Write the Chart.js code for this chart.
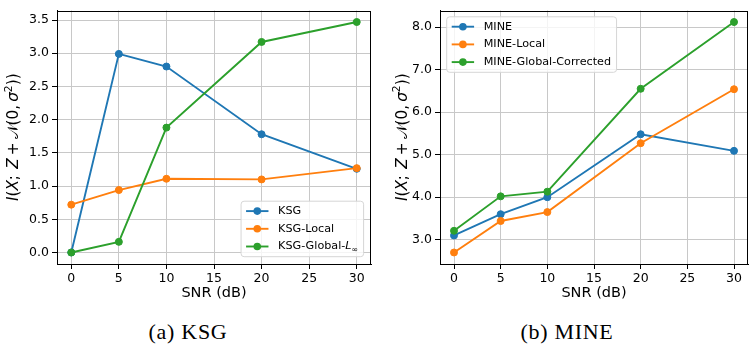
<!DOCTYPE html>
<html>
<head>
<meta charset="utf-8">
<script src="https://cdn.jsdelivr.net/npm/chart.js@4.4.1/dist/chart.umd.min.js"></script>
<style>
  html, body { margin: 0; padding: 0; background: #fff; }
  #wrap { position: relative; width: 753px; height: 344px; background: #fff; overflow: hidden; }
  .pane { position: absolute; top: 0; }
  .cap { position: absolute; top: 321px; width: 200px; text-align: center;
         font-family: "Liberation Serif", "DejaVu Serif", serif; font-size: 22px; line-height: 22px;
         letter-spacing: 0.7px; color: #000; }
</style>
</head>
<body>
<div id="wrap">
  <div class="pane" style="left:0px;"><canvas id="c1" width="376" height="305"></canvas></div>
  <div class="pane" style="left:376px;"><canvas id="c2" width="377" height="305"></canvas></div>
  <div class="cap" style="left:88px;">(a) KSG</div>
  <div class="cap" style="left:467px;">(b) MINE</div>
</div>
<script>
// ---- data ----
const snr = [0, 5, 10, 20, 30];
const xTicks = [0, 5, 10, 15, 20, 25, 30];

const ksgLabels = ['KSG', 'KSG-Local', 'KSG-Global-L∞'];
const ksg       = [0.00, 2.99, 2.80, 1.78, 1.26];
const ksgLocal  = [0.72, 0.94, 1.11, 1.10, 1.27];
const ksgGlobal = [0.00, 0.16, 1.88, 3.17, 3.47];
const yTicksA   = [0.0, 0.5, 1.0, 1.5, 2.0, 2.5, 3.0, 3.5];

const mineLabels = ['MINE', 'MINE-Local', 'MINE-Global-Corrected'];
const mine       = [3.10, 3.60, 4.00, 5.48, 5.09];
const mineLocal  = [2.70, 3.44, 3.65, 5.27, 6.54];
const mineGlobal = [3.21, 4.02, 4.13, 6.55, 8.12];
const yTicksB    = [3.0, 4.0, 5.0, 6.0, 7.0, 8.0];

const colors = ['#1f77b4', '#ff7f0e', '#2ca02c'];
const SANS = '"DejaVu Sans", sans-serif';

function pad(lo, hi) { const m = (hi - lo) * 0.05; return [lo - m, hi + m]; }

function makeDatasets(labels, series) {
  return series.map((vals, i) => ({
    label: labels[i],
    data: snr.map((x, j) => ({ x: x, y: vals[j] })),
    borderColor: colors[i],
    backgroundColor: colors[i],
    pointBackgroundColor: colors[i],
    pointBorderColor: colors[i],
    borderWidth: 1.9,
    pointRadius: 3.5,
    pointBorderWidth: 1,
    tension: 0,
    order: series.length - i
  }));
}

// frame + y title + legend plugin
const decor = {
  id: 'decor',
  afterDatasetsDraw(chart, args, o) {
    const ctx = chart.ctx, a = chart.chartArea;
    ctx.save();
    // frame
    ctx.strokeStyle = '#000'; ctx.lineWidth = 1;
    ctx.strokeRect(Math.round(a.left) + 0.5, Math.round(a.top) + 0.5,
                   Math.round(a.right) - Math.round(a.left) - 1, Math.round(a.bottom) - Math.round(a.top));
    // y title with math styling
    const fs = 15.3;
    const segs = [['I','i'],['(',''],['X','i'],[';\u2009\u2009',''],['Z','i'],['\u2009+\u2009',''],['\uD835\uDCA9',''],['(0,\u2009',''],['σ','i'],['2','sup'],['))','']];
    const fontOf = (st) => (st === 'i' ? 'italic ' : '') + (st === 'sup' ? (fs * 0.7) : fs) + 'px ' + SANS;
    let w = 0;
    segs.forEach(s => { ctx.font = fontOf(s[1]); w += ctx.measureText(s[0]).width; });
    ctx.translate(o.yTitleX, (a.top + a.bottom) / 2);
    ctx.rotate(-Math.PI / 2);
    ctx.fillStyle = '#000'; ctx.textBaseline = 'middle'; ctx.textAlign = 'left';
    let x = -w / 2;
    segs.forEach(s => {
      ctx.font = fontOf(s[1]);
      ctx.fillText(s[0], x, s[1] === 'sup' ? -5.5 : 0);
      x += ctx.measureText(s[0]).width;
    });
    ctx.restore();

    // legend
    ctx.save();
    const lf = 11.2, rowH = 17.7, padL = 5, lineL = 22.4, gap = 9.6, padR = 5.5, boxH = 55.5;
    const items = chart.data.datasets.map(d => d.label);
    const drawLabel = (txt, x, y, measureOnly) => {
      let parts = [[txt, '']];
      if (txt.endsWith('L∞')) parts = [[txt.slice(0, -2), ''], ['L', 'i'], ['∞', 'sub']];
      let xx = x;
      parts.forEach(p => {
        ctx.font = (p[1] === 'i' ? 'italic ' : '') + (p[1] === 'sub' ? lf * 0.7 : lf) + 'px ' + SANS;
        if (!measureOnly) ctx.fillText(p[0], xx, p[1] === 'sub' ? y + 3 : y);
        xx += ctx.measureText(p[0]).width;
      });
      return xx - x;
    };
    let tw = 0;
    items.forEach(t => { tw = Math.max(tw, drawLabel(t, 0, 0, true)); });
    const boxW = padL + lineL + gap + tw + padR;
    let bx, by;
    if (o.legendPos === 'lr') { bx = a.right - 7.4 - boxW; by = a.bottom - 7.3 - boxH; }
    else { bx = a.left + 6.7; by = a.top + 6.3; }
    ctx.beginPath();
    const r = 3;
    ctx.moveTo(bx + r, by); ctx.lineTo(bx + boxW - r, by); ctx.arcTo(bx + boxW, by, bx + boxW, by + r, r);
    ctx.lineTo(bx + boxW, by + boxH - r); ctx.arcTo(bx + boxW, by + boxH, bx + boxW - r, by + boxH, r);
    ctx.lineTo(bx + r, by + boxH); ctx.arcTo(bx, by + boxH, bx, by + boxH - r, r);
    ctx.lineTo(bx, by + r); ctx.arcTo(bx, by, bx + r, by, r); ctx.closePath();
    ctx.fillStyle = 'rgba(255,255,255,0.8)'; ctx.fill();
    ctx.strokeStyle = '#d6d6d6'; ctx.lineWidth = 1; ctx.stroke();
    items.forEach((t, i) => {
      const cy = by + 9.9 + i * rowH;
      const x0 = bx + padL;
      ctx.strokeStyle = colors[i]; ctx.lineWidth = 1.9;
      ctx.beginPath(); ctx.moveTo(x0, cy); ctx.lineTo(x0 + lineL, cy); ctx.stroke();
      ctx.fillStyle = colors[i];
      ctx.beginPath(); ctx.arc(x0 + lineL / 2, cy, 3.8, 0, Math.PI * 2); ctx.fill();
      ctx.fillStyle = '#000'; ctx.textBaseline = 'middle'; ctx.textAlign = 'left';
      drawLabel(t, x0 + lineL + gap, cy, false);
    });
    ctx.restore();
  }
};

function makeChart(id, labels, series, yTicks, yw, padRight, yTitleX, legendPos) {
  const all = series.flat();
  const [ymin, ymax] = pad(Math.min(...all), Math.max(...all));
  const [xmin, xmax] = pad(Math.min(...snr), Math.max(...snr));
  const gridCommon = { color: '#c8c8c8', lineWidth: 1, tickColor: '#000', tickLength: 5, tickWidth: 1, drawTicks: true };
  return new Chart(document.getElementById(id), {
    type: 'line',
    data: { datasets: makeDatasets(labels, series) },
    options: {
      responsive: false, animation: false, events: [],
      layout: { padding: { top: 5, right: padRight, left: 0, bottom: 0 } },
      plugins: { legend: { display: false }, tooltip: { enabled: false }, decor: { yTitleX: yTitleX, legendPos: legendPos } },
      scales: {
        x: {
          type: 'linear', min: xmin, max: xmax,
          afterBuildTicks: s => { s.ticks = xTicks.map(v => ({ value: v })); },
          afterFit: s => { s.height = 41; },
          grid: gridCommon,
          border: { display: true, color: '#000', width: 1 },
          ticks: { color: '#000', font: { family: SANS, size: 12.5 }, padding: 2, maxRotation: 0, callback: v => String(v) },
          title: { display: true, text: 'SNR (dB)', color: '#000', font: { family: SANS, size: 14.5 }, padding: { top: 0, bottom: 3.5 } }
        },
        y: {
          type: 'linear', min: ymin, max: ymax,
          afterBuildTicks: s => { s.ticks = yTicks.map(v => ({ value: v })); },
          afterFit: s => { s.width = yw; },
          grid: gridCommon,
          border: { display: true, color: '#000', width: 1 },
          ticks: { color: '#000', font: { family: SANS, size: 12.5 }, padding: 3, callback: v => Number(v).toFixed(1) }
        }
      }
    },
    plugins: [decor]
  });
}

makeChart('c1', ksgLabels, [ksg, ksgLocal, ksgGlobal], yTicksA, 57, 5, 14.5, 'lr');
makeChart('c2', mineLabels, [mine, mineLocal, mineGlobal], yTicksB, 64, 2, 27, 'ul');
</script>
</body>
</html>
